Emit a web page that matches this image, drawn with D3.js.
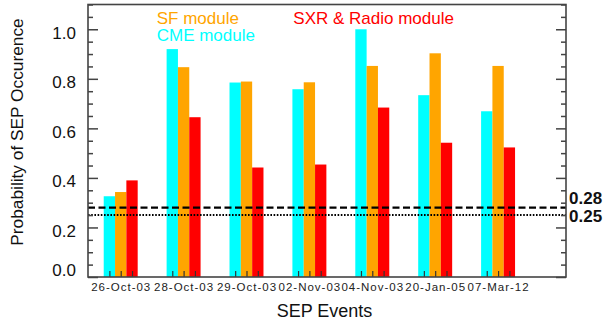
<!DOCTYPE html>
<html>
<head>
<meta charset="utf-8">
<script src="https://cdn.jsdelivr.net/npm/d3@7"></script>
<style>
  html, body { margin: 0; padding: 0; background: #fff; }
  svg { display: block; font-family: "Liberation Sans", Arial, sans-serif; }
</style>
</head>
<body>
<svg id="chart" width="603" height="326"></svg>
<script>
const events = ["26-Oct-03", "28-Oct-03", "29-Oct-03", "02-Nov-03", "04-Nov-03", "20-Jan-05", "07-Mar-12"];
const cmeValues   = [0.326, 0.92, 0.785, 0.758, 1.0, 0.734, 0.669];
const sfValues    = [0.343, 0.847, 0.789, 0.786, 0.852, 0.903, 0.852];
const sxrValues   = [0.39, 0.645, 0.442, 0.454, 0.684, 0.542, 0.523];
const seriesNames = ["CME module", "SF module", "SXR & Radio module"];
const seriesColors = ["#00FFFF", "#FFA500", "#FF0000"];
const yMajorTicks = [0.0, 0.2, 0.4, 0.6, 0.8, 1.0];
const thresholds = [0.28, 0.25];
const thresholdLabels = ["0.28", "0.25"];

(function () {
const svg = d3.select("#chart");
const pL = 88, pR = 566, pT = 4.5, pB = 277;

const x = d3.scaleLinear().domain([-0.52, 7.08]).range([pL, pR]);
const y = d3.scaleLinear().domain([0, 1.1]).range([pB, pT]);
const unit = x(1) - x(0);
const barW = unit * 0.18;

const series = [cmeValues, sfValues, sxrValues];

// bars
series.forEach((vals, si) => {
  svg.append("g").selectAll("rect").data(vals).join("rect")
    .attr("x", (d, i) => x(i) + (si - 1) * barW - barW / 2)
    .attr("width", barW)
    .attr("y", d => y(d))
    .attr("height", d => y(0) - y(d))
    .attr("fill", seriesColors[si]);
});

// threshold lines
svg.append("line")
  .attr("x1", pL).attr("x2", pR)
  .attr("y1", y(thresholds[0])).attr("y2", y(thresholds[0]))
  .attr("stroke", "#000").attr("stroke-width", 2.3)
  .attr("stroke-dasharray", "7,3.5");
svg.append("line")
  .attr("x1", pL).attr("x2", pR)
  .attr("y1", y(thresholds[1])).attr("y2", y(thresholds[1]))
  .attr("stroke", "#000").attr("stroke-width", 2)
  .attr("stroke-dasharray", "1.6,1.6");

// threshold labels
svg.append("text").attr("x", 569).attr("y", 204)
  .attr("font-size", 17).attr("font-weight", "bold").attr("fill", "#111")
  .text(thresholdLabels[0]);
svg.append("text").attr("x", 569).attr("y", 221.7)
  .attr("font-size", 17).attr("font-weight", "bold").attr("fill", "#111")
  .text(thresholdLabels[1]);

const axisColor = "#444";

const minorTicks = d3.range(0, 1.1001, 0.05).map(v => +v.toFixed(2))
  .filter(v => !yMajorTicks.some(m => Math.abs(m - v) < 1e-6));

// left axis
const gl = svg.append("g").attr("transform", `translate(${pL},0)`)
  .call(d3.axisLeft(y).tickValues(yMajorTicks).tickSize(-10).tickFormat(d3.format(".1f")));
gl.select(".domain").remove();
gl.selectAll(".tick line").attr("stroke", axisColor).attr("stroke-width", 1.5);
gl.selectAll(".tick text").attr("font-size", 17).attr("fill", "#111")
  .attr("font-family", "Liberation Sans, Arial, sans-serif")
  .attr("dy", d => d === 0 ? "-0.1em" : "0.53em")
  .attr("x", -12);

const glm = svg.append("g").attr("transform", `translate(${pL},0)`)
  .call(d3.axisLeft(y).tickValues(minorTicks).tickSize(-5).tickFormat(""));
glm.select(".domain").remove();
glm.selectAll(".tick line").attr("stroke", axisColor).attr("stroke-width", 1.5);

// right axis
const gr = svg.append("g").attr("transform", `translate(${pR},0)`)
  .call(d3.axisRight(y).tickValues(yMajorTicks).tickSize(-10).tickFormat(""));
gr.select(".domain").remove();
gr.selectAll(".tick line").attr("stroke", axisColor).attr("stroke-width", 1.5);
const grm = svg.append("g").attr("transform", `translate(${pR},0)`)
  .call(d3.axisRight(y).tickValues(minorTicks).tickSize(-5).tickFormat(""));
grm.select(".domain").remove();
grm.selectAll(".tick line").attr("stroke", axisColor).attr("stroke-width", 1.5);

// bottom axis: ticks at bar centres
const barCenters = [];
events.forEach((e, i) => { for (let s = 0; s < 3; s++) barCenters.push(i + (s - 1) * 0.18); });
const gb = svg.append("g").attr("transform", `translate(0,${pB})`)
  .call(d3.axisBottom(x).tickValues(barCenters).tickSize(-6).tickFormat(""));
gb.select(".domain").remove();
gb.selectAll(".tick line").attr("stroke", "#333").attr("stroke-width", 1.2);

// category labels
svg.append("g").selectAll("text").data(events).join("text")
  .attr("x", (d, i) => x(i) + 0.5)
  .attr("y", 291)
  .attr("text-anchor", "middle")
  .attr("font-size", 11.5)
  .attr("letter-spacing", 1)
  .attr("fill", "#222")
  .text(d => d);

// frame
svg.append("rect")
  .attr("x", pL).attr("y", pT)
  .attr("width", pR - pL).attr("height", pB - pT)
  .attr("fill", "none").attr("stroke", axisColor).attr("stroke-width", 1.6);

// legend
svg.append("text").attr("x", 156.7).attr("y", 24).attr("font-size", 17)
  .attr("fill", seriesColors[1]).text(seriesNames[1]);
svg.append("text").attr("x", 156.7).attr("y", 40.7).attr("font-size", 17)
  .attr("fill", seriesColors[0]).text(seriesNames[0]);
svg.append("text").attr("x", 293.3).attr("y", 24).attr("font-size", 17)
  .attr("fill", seriesColors[2]).text(seriesNames[2]);

// axis titles
svg.append("text")
  .attr("transform", "translate(23,132) rotate(-90)")
  .attr("text-anchor", "middle")
  .attr("font-size", 17.3).attr("fill", "#111")
  .text("Probability of SEP Occurence");
svg.append("text")
  .attr("x", 324.5).attr("y", 317)
  .attr("text-anchor", "middle")
  .attr("font-size", 18).attr("fill", "#111")
  .text("SEP Events");
})();
</script>
</body>
</html>
